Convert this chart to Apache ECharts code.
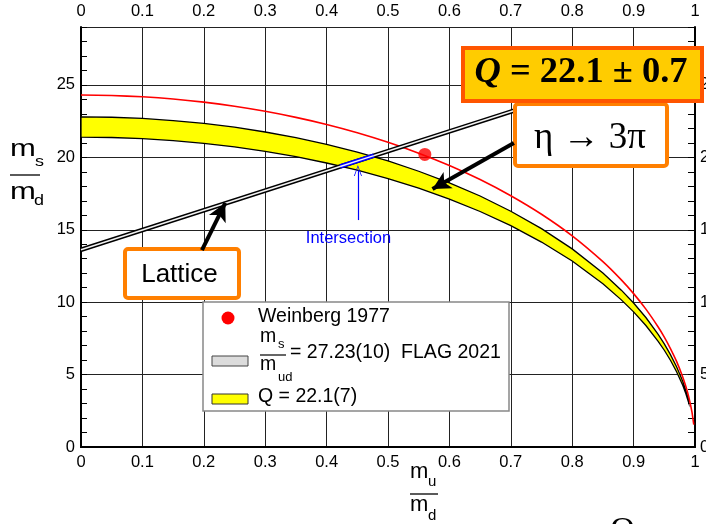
<!DOCTYPE html>
<html><head><meta charset="utf-8">
<script src="https://cdn.jsdelivr.net/npm/echarts@6/dist/echarts.min.js"></script>
<style>html,body{margin:0;padding:0;background:#fff}#c{width:706px;height:524px}</style>
</head><body><div id="c"></div>
<script>
// ---- tick labels ----
const xTickLabels = ['0','0.1','0.2','0.3','0.4','0.5','0.6','0.7','0.8','0.9','1'];
const yTickLabels = ['0','5','10','15','20','25'];

// ---- Weinberg (Q = 24.3) curve ----
const weinbergCurveX = [0,0.05,0.1,0.15,0.2,0.25,0.3,0.35,0.4,0.45,0.5,0.55,0.6,0.65,0.7,0.75,0.8,0.85,0.88,0.9,0.92,0.94,0.95,0.96,0.97,0.98,0.985,0.99,0.995,0.998];
const weinbergCurveY = [24.30,24.27,24.18,24.03,23.81,23.53,23.18,22.76,22.27,21.70,21.04,20.29,19.44,18.47,17.35,16.07,14.58,12.80,11.54,10.59,9.52,8.29,7.59,6.80,5.91,4.84,4.19,3.43,2.43,1.54];

// ---- eta -> 3pi band, Q = 22.1(7) ----
const bandX = [0,0.05,0.1,0.15,0.2,0.25,0.3,0.35,0.4,0.45,0.5,0.55,0.6,0.65,0.7,0.75,0.8,0.85,0.88,0.9,0.92,0.94,0.95,0.96,0.97,0.98,0.985,0.99];
const bandLowY = [21.40,21.37,21.29,21.16,20.97,20.72,20.41,20.05,19.61,19.11,18.53,17.87,17.12,16.26,15.28,14.15,12.84,11.27,10.16,9.33,8.39,7.30,6.68,5.99,5.20,4.26,3.69,3.02];
const bandHighY = [22.80,22.77,22.69,22.54,22.34,22.08,21.75,21.36,20.90,20.36,19.75,19.04,18.24,17.33,16.28,15.08,13.68,12.01,10.83,9.94,8.94,7.78,7.12,6.38,5.54,4.54,3.93,3.22];

// ---- lattice line (FLAG 2021) ----
const latticeX = [0, 0.76];
const latticeY = [13.62, 23.97];

// ---- intersection segment ----
const intersectX = [0.422, 0.477];
const intersectY = [19.37, 20.12];

// ---- Weinberg 1977 point ----
const weinbergPointX = [0.56];
const weinbergPointY = [20.2];

// ---- annotation arrows (data coordinates) ----
const latticeArrow = [[0.197, 13.6], [0.235, 16.85]];
const etaArrow = [[0.705, 20.99], [0.5725, 17.81]];
const intersectArrow = [[0.451, 15.67], [0.451, 19.1]];

const SANS = 'Liberation Sans, Arial, Helvetica, sans-serif';
const SERIF = 'Liberation Serif, Times New Roman, serif';

const pairs = (xs, ys) => xs.map((x, i) => [x, ys[i]]);

const chart = echarts.init(document.getElementById('c'), null, {renderer: 'canvas'});

const axisLabelStyle = {color: '#000', fontSize: 16.5, fontFamily: SANS};
const xFmt = v => { const i = Math.round(v * 10); return xTickLabels[i] !== undefined ? xTickLabels[i] : ''; };
const yFmt = v => yTickLabels.indexOf(String(v)) >= 0 ? String(v) : '';

const option = {
  animation: false,
  backgroundColor: '#fff',
  grid: {left: 81, top: 27, width: 614, height: 420, containLabel: false, outerBoundsMode: 'none'},
  xAxis: [
    {type: 'value', position: 'bottom', min: 0, max: 1, interval: 0.1,
     axisLine: {show: true, lineStyle: {color: '#000', width: 2}},
     axisTick: {show: false},
     axisLabel: Object.assign({margin: 7, formatter: xFmt}, axisLabelStyle),
     splitLine: {show: true, lineStyle: {color: '#222', width: 1}}},
    {type: 'value', position: 'top', min: 0, max: 1, interval: 0.1,
     axisLine: {show: true, lineStyle: {color: '#000', width: 2}},
     axisTick: {show: false},
     axisLabel: Object.assign({margin: 7, formatter: xFmt}, axisLabelStyle),
     splitLine: {show: false}}
  ],
  yAxis: [
    {type: 'value', position: 'left', min: 0, max: 29, interval: 5,
     axisLine: {show: true, lineStyle: {color: '#000', width: 2}},
     axisTick: {show: false},
     axisLabel: Object.assign({margin: 6, formatter: yFmt}, axisLabelStyle),
     splitLine: {show: true, lineStyle: {color: '#222', width: 1}}},
    {type: 'value', position: 'left', min: 0, max: 29, interval: 1,
     axisLine: {show: false},
     axisTick: {show: true, inside: true, length: 6, lineStyle: {color: '#000', width: 1}},
     axisLabel: {show: false}, splitLine: {show: false}},
    {type: 'value', position: 'right', min: 0, max: 29, interval: 5,
     axisLine: {show: true, lineStyle: {color: '#000', width: 2}},
     axisTick: {show: false},
     axisLabel: Object.assign({margin: 5, formatter: yFmt}, axisLabelStyle),
     splitLine: {show: false}},
    {type: 'value', position: 'right', min: 0, max: 29, interval: 1,
     axisLine: {show: false},
     axisTick: {show: true, inside: true, length: 7, lineStyle: {color: '#000', width: 1}},
     axisLabel: {show: false}, splitLine: {show: false}}
  ],
  series: [
    {
      name: 'Q band', type: 'custom', xAxisIndex: 0, yAxisIndex: 0, z: 3, silent: true,
      data: bandX.map((x, i) => [x, bandLowY[i], bandHighY[i]]),
      encode: {x: 0, y: [1, 2]},
      renderItem: (params, api) => {
        if (params.dataIndex !== 0) return {type: 'group', children: []};
        const upper = bandX.map((x, i) => api.coord([x, bandHighY[i]]));
        const lower = bandX.map((x, i) => api.coord([x, bandLowY[i]])).reverse();
        return {type: 'polygon', shape: {points: upper.concat(lower)},
                style: {fill: '#ffff00', stroke: '#000', lineWidth: 1.3}};
      }
    },
    {
      name: 'Weinberg curve', type: 'line', xAxisIndex: 0, yAxisIndex: 0, z: 4, silent: true,
      data: pairs(weinbergCurveX, weinbergCurveY), showSymbol: false, symbol: 'none', smooth: 0.2,
      lineStyle: {color: '#ff0000', width: 1.6}
    },
    {
      name: 'Lattice outer', type: 'line', xAxisIndex: 0, yAxisIndex: 0, z: 5, silent: true,
      data: pairs(latticeX, latticeY), symbol: 'none',
      lineStyle: {color: '#000', width: 4.5}
    },
    {
      name: 'Lattice inner', type: 'line', xAxisIndex: 0, yAxisIndex: 0, z: 6, silent: true,
      data: pairs(latticeX, latticeY), symbol: 'none',
      lineStyle: {color: '#f2f2f2', width: 1.6}
    },
    {
      name: 'Intersection outer', type: 'line', xAxisIndex: 0, yAxisIndex: 0, z: 7, silent: true,
      data: pairs(intersectX, intersectY), symbol: 'none',
      lineStyle: {color: '#0000ff', width: 4.5},
      markLine: {
        silent: true, symbol: ['none', 'none'], label: {show: false},
        data: [[
          {coord: intersectArrow[0], symbol: 'none', lineStyle: {color: '#0000ff', width: 1.2, type: 'solid'}},
          {coord: intersectArrow[1], symbol: 'path://M0,10 L5,0 L10,10 L9,10 L5,2 L1,10 Z', symbolSize: [8, 11]}
        ]],
        itemStyle: {color: '#0000ff'},
        lineStyle: {color: '#0000ff', width: 1.2, type: 'solid'}
      }
    },
    {
      name: 'Intersection inner', type: 'line', xAxisIndex: 0, yAxisIndex: 0, z: 8, silent: true,
      data: pairs(intersectX, intersectY), symbol: 'none',
      lineStyle: {color: '#f2f2ff', width: 1.4}
    },
    {
      name: 'Weinberg 1977', type: 'scatter', xAxisIndex: 0, yAxisIndex: 0, z: 9, silent: true,
      data: pairs(weinbergPointX, weinbergPointY), symbol: 'circle', symbolSize: 13,
      itemStyle: {color: '#ff0000'},
      markLine: {
        silent: true, symbol: ['none', 'arrow'], symbolSize: [14, 18], label: {show: false},
        z: 30,
        data: [
          [{coord: latticeArrow[0]}, {coord: latticeArrow[1]}],
          [{coord: etaArrow[0]}, {coord: etaArrow[1]}]
        ],
        itemStyle: {color: '#000'},
        lineStyle: {color: '#000', width: 4, type: 'solid'}
      }
    }
  ],
  graphic: [
    // Lattice box
    {type: 'rect', z: 20, shape: {x: 125, y: 249, width: 114, height: 49, r: 3},
     style: {fill: '#fff', stroke: '#ff7f00', lineWidth: 4}},
    {type: 'text', z: 21, x: 179.5, y: 274.5,
     style: {text: 'Lattice', font: '26px ' + SANS, fill: '#000', textAlign: 'center', textVerticalAlign: 'middle'}},
    // eta box
    {type: 'rect', z: 20, shape: {x: 515, y: 104, width: 152, height: 62, r: 3},
     style: {fill: '#fff', stroke: '#ff7f00', lineWidth: 4}},
    {type: 'text', z: 21, x: 590, y: 138,
     style: {text: 'η → 3π', font: '37px ' + SERIF, fill: '#000', textAlign: 'center', textVerticalAlign: 'middle'}},
    // Q box
    {type: 'rect', z: 20, shape: {x: 463, y: 48, width: 239, height: 53},
     style: {fill: '#ffcc00', stroke: '#ff5500', lineWidth: 4}},
    {type: 'text', z: 21, x: 581, y: 73,
     style: {text: '{q|Q} = 22.1 ± 0.7', font: 'bold 36.5px ' + SERIF, fill: '#000', textAlign: 'center', textVerticalAlign: 'middle',
             rich: {q: {font: 'italic bold 36.5px ' + SERIF, fill: '#000'}}}},
    // Intersection label
    {type: 'text', z: 21, x: 348.5, y: 238,
     style: {text: 'Intersection', font: '16.5px ' + SANS, fill: '#0000ff', textAlign: 'center', textVerticalAlign: 'middle'}},
    // Legend
    {type: 'rect', z: 20, shape: {x: 203, y: 302, width: 306, height: 109},
     style: {fill: '#fff', stroke: '#888', lineWidth: 1.5}},
    {type: 'circle', z: 21, shape: {cx: 228, cy: 318, r: 6.5}, style: {fill: '#ff0000'}},
    {type: 'text', z: 21, x: 258, y: 317,
     style: {text: 'Weinberg 1977', font: '19.5px ' + SANS, fill: '#000', textVerticalAlign: 'middle'}},
    {type: 'rect', z: 21, shape: {x: 212, y: 356, width: 36, height: 10},
     style: {fill: '#dcdcdc', stroke: '#444', lineWidth: 1}},
    {type: 'text', z: 21, x: 260, y: 337,
     style: {text: 'm', font: '19.5px ' + SANS, fill: '#000', textVerticalAlign: 'middle'}},
    {type: 'text', z: 21, x: 278, y: 344,
     style: {text: 's', font: '13px ' + SANS, fill: '#000', textVerticalAlign: 'middle'}},
    {type: 'line', z: 21, shape: {x1: 260, y1: 355, x2: 286, y2: 355}, style: {stroke: '#000', lineWidth: 1.2}},
    {type: 'text', z: 21, x: 260, y: 365,
     style: {text: 'm', font: '19.5px ' + SANS, fill: '#000', textVerticalAlign: 'middle'}},
    {type: 'text', z: 21, x: 278, y: 377,
     style: {text: 'ud', font: '13px ' + SANS, fill: '#000', textVerticalAlign: 'middle'}},
    {type: 'text', z: 21, x: 290, y: 353,
     style: {text: '= 27.23(10)  FLAG 2021', font: '19.5px ' + SANS, fill: '#000', textVerticalAlign: 'middle'}},
    {type: 'rect', z: 21, shape: {x: 212, y: 394, width: 36, height: 10},
     style: {fill: '#ffff00', stroke: '#333', lineWidth: 1}},
    {type: 'text', z: 21, x: 258, y: 397,
     style: {text: 'Q = 22.1(7)', font: '19.5px ' + SANS, fill: '#000', textVerticalAlign: 'middle'}},
    // y axis title  m_s / m_d
    {type: 'text', z: 21, x: 10, y: 150, scaleX: 1.35,
     style: {text: 'm', font: '23px ' + SANS, fill: '#000', textVerticalAlign: 'middle'}},
    {type: 'text', z: 21, x: 35, y: 162, scaleX: 1.2,
     style: {text: 's', font: '15px ' + SANS, fill: '#000', textVerticalAlign: 'middle'}},
    {type: 'line', z: 21, shape: {x1: 10, y1: 175, x2: 40, y2: 175}, style: {stroke: '#000', lineWidth: 1.3}},
    {type: 'text', z: 21, x: 10, y: 193, scaleX: 1.35,
     style: {text: 'm', font: '23px ' + SANS, fill: '#000', textVerticalAlign: 'middle'}},
    {type: 'text', z: 21, x: 34, y: 201, scaleX: 1.2,
     style: {text: 'd', font: '15px ' + SANS, fill: '#000', textVerticalAlign: 'middle'}},
    // x axis title  m_u / m_d
    {type: 'text', z: 21, x: 410, y: 472,
     style: {text: 'm', font: '22px ' + SANS, fill: '#000', textVerticalAlign: 'middle'}},
    {type: 'text', z: 21, x: 428, y: 482,
     style: {text: 'u', font: '15px ' + SANS, fill: '#000', textVerticalAlign: 'middle'}},
    {type: 'line', z: 21, shape: {x1: 410, y1: 494, x2: 438, y2: 494}, style: {stroke: '#000', lineWidth: 1.3}},
    {type: 'text', z: 21, x: 410, y: 505,
     style: {text: 'm', font: '22px ' + SANS, fill: '#000', textVerticalAlign: 'middle'}},
    {type: 'text', z: 21, x: 428, y: 516,
     style: {text: 'd', font: '15px ' + SANS, fill: '#000', textVerticalAlign: 'middle'}},
    // cut-off glyph at bottom
    {type: 'text', z: 21, x: 622.5, y: 531,
     style: {text: 'Q', font: '34px ' + SERIF, fill: '#000', textAlign: 'center', textVerticalAlign: 'middle'}}
  ]
};
chart.setOption(option);
</script>
</body></html>
